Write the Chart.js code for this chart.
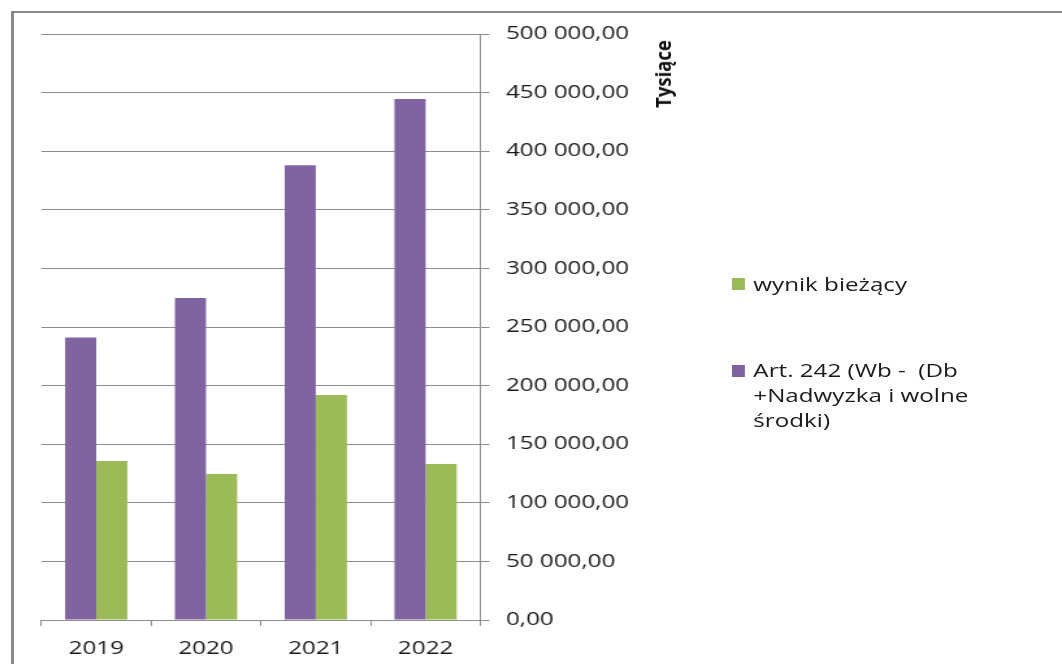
<!DOCTYPE html>
<html>
<head>
<meta charset="utf-8">
<script src="https://cdn.jsdelivr.net/npm/chart.js@4.4.1/dist/chart.umd.min.js"></script>
<style>
  html, body { margin: 0; padding: 0; background: #fff; width: 1062px; height: 664px; overflow: hidden; }
  #frame { position: absolute; left: 11px; top: 11px; width: 1100px; height: 700px;
           border-left: 3px solid #898989; border-top: 2px solid #898989; }
  #stretch { position: absolute; left: 0; top: 0; width: 817px; height: 664px;
             transform: scaleX(1.3); transform-origin: 0 0; }
  #chartBox { position: absolute; left: 0; top: 0; width: 817px; height: 664px; }
  .leg { position: absolute; font-family: 'Open Sans'; font-size: 18.6px; line-height: 25px;
         color: #1a1a1a; white-space: pre; }
  .sw { position: absolute; width: 9.8px; height: 11.7px; }
  #ytitle { position: absolute; left: 662px; top: 74px;
            transform: translate(-50%, -50%) rotate(-90deg) scaleX(0.84);
            font: bold 22px 'Open Sans'; color: #111; white-space: nowrap; line-height: 1; }
</style>
</head>
<body>
<div id="frame"></div>
<div id="stretch">
  <div id="chartBox"><canvas id="c"></canvas></div>
  <div id="legend"></div>
</div>
<div id="ytitle">Tysiące</div>
<script>
// ---- data ----
const categories = ['2019', '2020', '2021', '2022'];
const art242Values = [241000, 274700, 388000, 444500];
const wynikBiezacyValues = [135700, 124600, 192000, 133100];
const art242LegendLines = ['Art. 242 (Wb -  (Db', '+Nadwyzka i wolne', 'środki)'];
const wynikLegendLines = ['wynik bieżący'];
const yMin = 0;
const yMax = 500000;
const yStep = 50000;
const yTitle = 'Tysiące';

const PURPLE = '#8064A2';
const GREEN = '#9BBB59';
const GRID = '#8e8e8e';
const TEXT = '#1a1a1a';
const FONT = { family: 'Open Sans', size: 18.6 };

function fmt(v) {
  const s = Math.round(v).toString().replace(/\B(?=(\d{3})+(?!\d))/g, ' ');
  return s + ',00';
}

function draw() {
  const datasets = [
    { label: art242LegendLines.join(' '), legendLines: art242LegendLines, data: art242Values,
      backgroundColor: PURPLE, borderWidth: 0, categoryPercentage: 0.567, barPercentage: 1.0 },
    { label: wynikLegendLines.join(' '), legendLines: wynikLegendLines, data: wynikBiezacyValues,
      backgroundColor: GREEN, borderWidth: 0, categoryPercentage: 0.567, barPercentage: 1.0 }
  ];

  new Chart(document.getElementById('c'), {
    type: 'bar',
    data: { labels: categories, datasets },
    options: {
      responsive: true,
      maintainAspectRatio: false,
      animation: false,
      layout: { padding: { left: 31.8, top: 34, right: 0, bottom: 0 } },
      plugins: { legend: { display: false }, tooltip: { enabled: false } },
      scales: {
        x: {
          type: 'category',
          position: 'bottom',
          offset: true,
          grid: { display: true, offset: true, drawOnChartArea: false, drawTicks: true,
                  tickLength: 6, color: GRID, lineWidth: 1 },
          border: { display: true, color: GRID, width: 1 },
          ticks: { font: FONT, color: TEXT, padding: 12, maxRotation: 0, autoSkip: false },
          afterFit(s) { s.height = 44; }
        },
        y: {
          position: 'right',
          min: yMin, max: yMax,
          grid: { display: true, drawOnChartArea: true, drawTicks: true, tickLength: 7,
                  color: GRID, lineWidth: 1 },
          border: { display: true, color: GRID, width: 1 },
          ticks: { stepSize: yStep, font: FONT, color: TEXT, padding: 12.6, callback: fmt },
          afterFit(s) { s.width = 817 - 369.6; }
        }
      }
    }
  });

  // legend (reverse order, as in the reference)
  const legend = document.getElementById('legend');
  const positions = [ { sq: 365, text: 357 }, { sq: 278.3, text: 271 } ];
  datasets.forEach((ds, i) => {
    const p = positions[i];
    const sw = document.createElement('div');
    sw.className = 'sw';
    sw.style.left = '563.3px';
    sw.style.top = p.sq + 'px';
    sw.style.background = ds.backgroundColor;
    legend.appendChild(sw);
    const t = document.createElement('div');
    t.className = 'leg';
    t.style.left = '579.5px';
    t.style.top = p.text + 'px';
    t.textContent = ds.legendLines.join('\n');
    legend.appendChild(t);
  });
  document.getElementById('ytitle').textContent = yTitle;
}

if (document.fonts && document.fonts.load) {
  Promise.all([
    document.fonts.load('18.6px "Open Sans"'),
    document.fonts.load('bold 22px "Open Sans"')
  ]).then(draw, draw);
} else {
  draw();
}
</script>
</body>
</html>
